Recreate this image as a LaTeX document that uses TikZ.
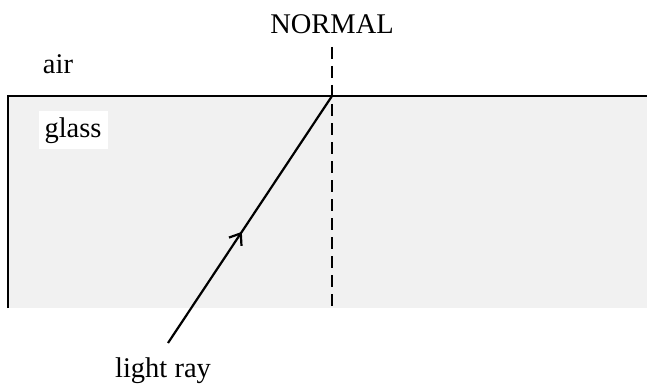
\documentclass[tikz,border=0pt]{standalone}
\usepackage{fontspec}
\setmainfont{Liberation Serif}
\usetikzlibrary{positioning,arrows.meta,decorations.markings}

\definecolor{glassgray}{HTML}{F1F1F1}

\tikzset{
  lbl/.style={font=\fontsize{28.5}{32}\selectfont, inner sep=2pt},
  boundary/.style={line width=2pt},
  normalline/.style={line width=2.6pt, dash pattern=on 12pt off 7pt},
  ray/.style={line width=2.2pt, postaction={decorate},
    decoration={markings, mark=at position 0.45 with
      {\arrow{Straight Barb[length=10pt,width=15pt,line width=2.2pt]}}}},
}

\begin{document}
\begin{tikzpicture}[x=1pt, y=-1pt]
  \useasboundingbox (0,0) rectangle (647,385);

  % Glass block
  \fill[glassgray] (8,96) rectangle (647,308);
  \draw[boundary] (8,308) -- (8,96) -- (647,96);

  % Define nodes
  \coordinate (hit)  at (332,96);
  \coordinate (ntop) at (332,47);
  \coordinate (nbot) at (332,308);
  \coordinate (src)  at (168,343);
  \node[lbl]              (normal) at (332,24) {NORMAL};
  \node[lbl, anchor=base] (air)    at (58,74)  {air};
  \node[lbl, anchor=base, fill=white, inner xsep=6pt, inner ysep=6pt]
                          (glass)  at (73,137) {glass};
  \node[lbl, anchor=base] (light)  at (163,377) {light ray};

  % Connect the nodes
  \draw[normalline] (ntop) -- (nbot);
  \draw[ray] (src) -- (hit);
\end{tikzpicture}
\end{document}
